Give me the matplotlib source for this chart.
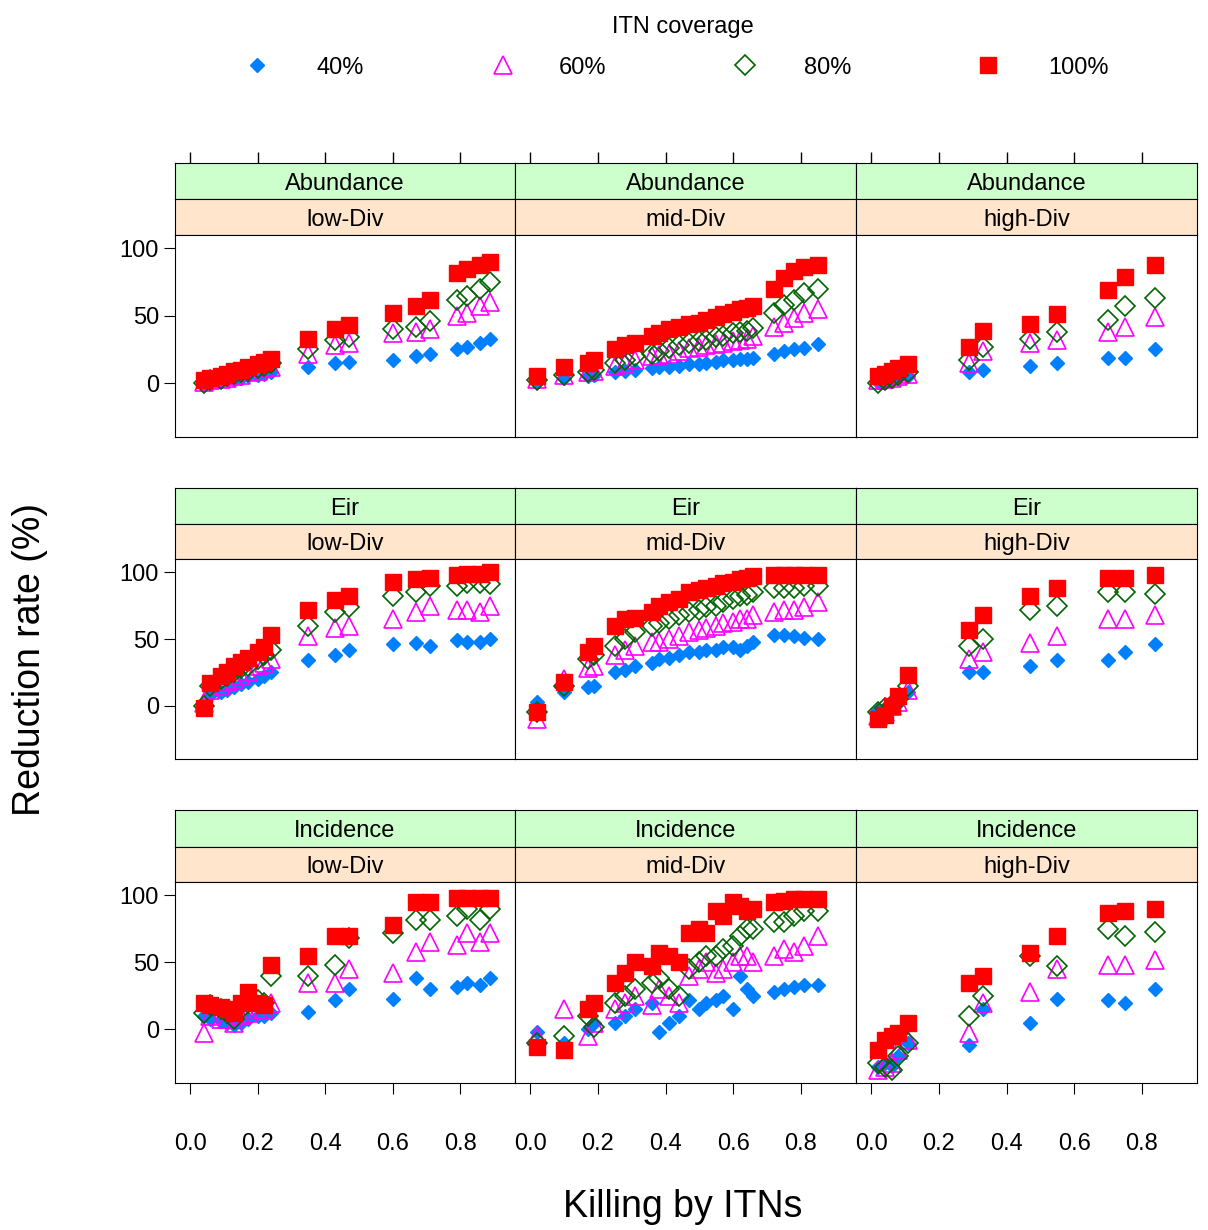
import matplotlib
matplotlib.use('Agg')
import matplotlib.pyplot as plt
from matplotlib.lines import Line2D

plt.rcParams['font.family'] = ['Liberation Sans', 'DejaVu Sans']

# x values per diversity column
x_low = [0.04, 0.06, 0.09, 0.11, 0.13, 0.15, 0.17, 0.20, 0.22, 0.24, 0.35, 0.43, 0.47, 0.60, 0.67, 0.71, 0.79, 0.82, 0.86, 0.89]
x_mid = [0.02, 0.10, 0.17, 0.19, 0.25, 0.28, 0.31, 0.36, 0.38, 0.41, 0.44, 0.47, 0.50, 0.52, 0.55, 0.57, 0.60, 0.62, 0.64, 0.66, 0.72, 0.75, 0.78, 0.81, 0.85]
x_high = [0.02, 0.04, 0.06, 0.08, 0.11, 0.29, 0.33, 0.47, 0.55, 0.70, 0.75, 0.84]

coverages = ['40%', '60%', '80%', '100%']
measures = ['Abundance', 'Eir', 'Incidence']
divs = ['low-Div', 'mid-Div', 'high-Div']

# values ordered [40%, 60%, 80%, 100%]
abund_low = [
    [0, 1, 2, 3, 3, 4, 5, 6, 7, 8, 12, 15, 16, 17, 20, 22, 25, 27, 30, 33],
    [1, 2, 3, 4, 5, 6, 8, 9, 11, 12, 22, 28, 30, 37, 38, 40, 50, 52, 57, 60],
    [0, 2, 3, 5, 7, 8, 9, 11, 13, 15, 25, 32, 34, 40, 42, 46, 62, 65, 70, 75],
    [2, 4, 5, 7, 9, 10, 12, 14, 16, 18, 33, 40, 43, 52, 57, 62, 82, 85, 88, 90]]
abund_mid = [
    [1, 4, 5, 6, 8, 9, 10, 11, 12, 12, 13, 14, 14, 15, 16, 17, 17, 18, 18, 19, 22, 24, 25, 26, 29],
    [3, 6, 8, 9, 13, 15, 17, 20, 21, 22, 24, 26, 27, 28, 29, 30, 31, 32, 33, 35, 42, 45, 48, 52, 55],
    [2, 6, 8, 10, 15, 17, 20, 22, 24, 26, 28, 30, 31, 32, 34, 35, 37, 38, 39, 41, 52, 58, 62, 67, 70],
    [5, 12, 15, 17, 25, 28, 30, 35, 37, 40, 42, 44, 45, 47, 49, 51, 53, 55, 56, 57, 70, 78, 83, 86, 88]]
abund_high = [
    [1, 2, 3, 4, 5, 8, 10, 13, 15, 19, 19, 25],
    [2, 3, 4, 5, 7, 15, 24, 30, 32, 38, 42, 49],
    [0, 2, 4, 6, 8, 17, 27, 33, 38, 47, 57, 63],
    [5, 7, 9, 11, 14, 27, 39, 44, 51, 69, 79, 88]]
eir_low = [
    [0, 8, 10, 12, 14, 16, 18, 20, 22, 25, 34, 38, 42, 46, 47, 45, 49, 48, 48, 50],
    [2, 12, 15, 18, 20, 22, 25, 30, 32, 35, 52, 58, 60, 65, 70, 75, 72, 72, 70, 75],
    [0, 15, 20, 22, 25, 28, 30, 35, 38, 42, 60, 70, 74, 82, 85, 90, 90, 92, 92, 91],
    [-2, 17, 22, 25, 30, 33, 36, 40, 44, 53, 72, 79, 82, 93, 95, 96, 98, 99, 99, 100]]
eir_mid = [
    [3, 10, 14, 15, 25, 27, 30, 32, 35, 36, 38, 40, 40, 42, 42, 44, 44, 42, 45, 48, 53, 53, 52, 51, 50],
    [-10, 20, 28, 30, 38, 42, 45, 48, 48, 50, 52, 55, 57, 58, 60, 62, 63, 65, 65, 68, 70, 72, 72, 74, 78],
    [-5, 15, 35, 38, 45, 50, 55, 60, 62, 65, 68, 70, 72, 74, 75, 78, 80, 82, 83, 85, 88, 88, 88, 90, 90],
    [-5, 18, 40, 45, 60, 65, 66, 70, 75, 78, 80, 85, 87, 88, 90, 92, 93, 95, 96, 97, 98, 98, 98, 98, 98]]
eir_high = [
    [-3, -2, 0, 2, 10, 25, 25, 30, 34, 34, 40, 46],
    [-8, -5, 0, 3, 12, 35, 40, 47, 52, 65, 65, 68],
    [-5, -2, 0, 5, 15, 45, 50, 72, 75, 85, 85, 84],
    [-10, -7, 0, 7, 23, 57, 68, 82, 88, 96, 96, 98]]
inc_low = [
    [10, 8, 6, 5, 3, 5, 8, 10, 10, 12, 13, 22, 30, 23, 38, 30, 32, 35, 33, 38],
    [-3, 10, 8, 8, 5, 10, 12, 15, 15, 20, 35, 35, 45, 42, 58, 65, 63, 72, 65, 72],
    [12, 18, 15, 12, 8, 15, 20, 22, 20, 40, 40, 48, 68, 72, 82, 82, 85, 90, 82, 90],
    [20, 18, 17, 15, 12, 20, 28, 20, 18, 48, 55, 70, 70, 78, 95, 95, 98, 98, 98, 98]]
inc_mid = [
    [-2, -10, 0, 5, 5, 10, 15, 20, -2, 5, 10, 22, 15, 20, 22, 25, 15, 40, 30, 25, 28, 30, 32, 33, 33],
    [-5, 15, -5, 5, 15, 20, 25, 18, 30, 25, 20, 40, 45, 50, 42, 45, 50, 55, 55, 50, 55, 60, 58, 62, 70],
    [-10, -5, 10, 2, 20, 25, 30, 35, 38, 30, 25, 45, 50, 55, 55, 60, 62, 70, 75, 75, 80, 80, 85, 88, 88],
    [-13, -15, 15, 20, 35, 42, 50, 47, 57, 55, 50, 72, 75, 72, 88, 85, 95, 92, 88, 90, 95, 96, 97, 97, 97]]
inc_high = [
    [-28, -25, -27, -20, -10, -12, 15, 5, 23, 22, 20, 30],
    [-30, -28, -25, -15, -8, -3, 20, 28, 45, 48, 48, 52],
    [-25, -28, -30, -20, -10, 10, 25, 55, 47, 75, 70, 73],
    [-15, -8, -5, -3, 5, 35, 40, 57, 70, 87, 88, 90]]

xs = [x_low, x_mid, x_high]
data = [[abund_low, abund_mid, abund_high],
        [eir_low, eir_mid, eir_high],
        [inc_low, inc_mid, inc_high]]

styles = [dict(marker='D', color='#0080ff', mfc='#0080ff', ms=7),
          dict(marker='^', color='#ff00ff', mfc='none', ms=13, mew=1.2),
          dict(marker='D', color='#006400', mfc='none', ms=10, mew=1.2),
          dict(marker='s', color='#ff0000', mfc='#ff0000', ms=11)]

W, H = 1208, 1230
fig = plt.figure(figsize=(W / 100, H / 100), dpi=100)

def fax(x0, y0, x1, y1):
    return fig.add_axes([x0 / W, 1 - y1 / H, (x1 - x0) / W, (y1 - y0) / H])

col_x = [175, 515, 856, 1197]
rows = [(163, 199, 235, 437), (488, 524, 559, 759), (810, 847, 882, 1083)]
xlim = (-0.045, 0.963)
ticks = [0.0, 0.2, 0.4, 0.6, 0.8]
fs = 17

for r, (s1, s2, p0, p1) in enumerate(rows):
    for c in range(3):
        x0, x1 = col_x[c], col_x[c + 1]
        # strips
        for (a, b, col, txt) in [(s1, s2, '#ccffcc', measures[r]), (s2, p0, '#ffe5cc', divs[c])]:
            sa = fax(x0, a, x1, b)
            sa.set_facecolor(col)
            sa.set_xlim(xlim)
            sa.set_yticks([])
            sa.set_xticks([])
            sa.text(0.5, 0.42, txt, ha='center', va='center', fontsize=fs, transform=sa.transAxes)
            if r == 0 and a == s1:
                sa.xaxis.tick_top()
                sa.set_xticks(ticks)
                sa.set_xticklabels([])
                sa.tick_params(axis='x', length=8, width=1)
        ax = fax(x0, p0, x1, p1)
        ax.set_xlim(xlim)
        ax.set_ylim(-40, 110)
        for k in range(4):
            ax.plot(xs[c], data[r][c][k], ls='none', **styles[k])
        ax.set_yticks([0, 50, 100])
        if c == 0:
            ax.tick_params(axis='y', length=8, labelsize=fs)
        else:
            ax.set_yticklabels([])
            ax.tick_params(axis='y', length=0)
        ax.set_xticks(ticks)
        if r == 2:
            ax.set_xticklabels(['0.0', '0.2', '0.4', '0.6', '0.8'])
            ax.tick_params(axis='x', length=8, labelsize=fs, pad=28)
        else:
            ax.tick_params(axis='x', length=0)
            ax.set_xticklabels([])

fig.text(30 / W, 1 - 660 / H, 'Reduction rate (%)', rotation=90, ha='center', va='center', fontsize=27)
fig.text(683 / W, 1 - 1207 / H, 'Killing by ITNs', ha='center', va='center', fontsize=27)

# legend
fig.text(683 / W, 1 - 27 / H, 'ITN coverage', ha='center', va='center', fontsize=fs)
mx = [257, 503, 745, 988]
lx = [340, 583, 828, 1078]
for k in range(4):
    fig.add_artist(Line2D([mx[k] / W], [1 - 65 / H], ls='none', transform=fig.transFigure, **styles[k]))
    fig.text(lx[k] / W, 1 - 68 / H, coverages[k], ha='center', va='center', fontsize=fs)

fig.savefig('out.png', dpi=100)
